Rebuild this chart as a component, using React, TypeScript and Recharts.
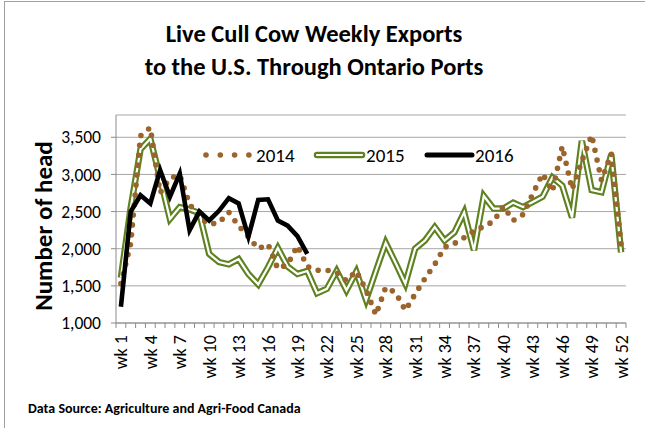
import React from "react"
import { CartesianGrid, Legend, Line, LineChart, XAxis, YAxis } from "recharts"

// weekly live cull cow exports, number of head
const weeks = Array.from({ length: 52 }, (_, i) => i + 1)
const labelWeeks = [1, 4, 7, 10, 13, 16, 19, 22, 25, 28, 31, 34, 37, 40, 43, 46, 49, 52]
const yTicks = [1000, 1500, 2000, 2500, 3000, 3500]

const exports2014 = [
    1530, 2070, 3520, 3630, 2750, 2950, 2990, 2600, 2420, 2330, 2350, 2490, 2310,
    2160, 2000, 2060, 1730, 1790, 2040, 1760, 1710, 1710, 1680, 1570, 1700, 1440,
    1110, 1480, 1410, 1170, 1390, 1600, 1790, 2020, 2070, 2150, 2240, 2300, 2370,
    2570, 2380, 2460, 2740, 3010, 2770, 3380, 2800, 3180, 3530, 2920, 3280, 2050,
]
const exports2015 = [
    1610, 2550, 3340, 3480, 2950, 2400, 2560, 2530, 2480, 1930, 1820, 1790, 1860,
    1660, 1520, 1750, 2010, 1760, 1660, 1700, 1400, 1460, 1700, 1440, 1690, 1310,
    1700, 2080, 1810, 1530, 2000, 2110, 2290, 2110, 2220, 2490, 1980, 2710, 2540,
    2540, 2620, 2560, 2630, 2700, 2960, 2850, 2420, 3450, 2790, 2760, 3270, 1950,
]
const exports2016 = [
    1220, 2500, 2720, 2610, 3060, 2700, 3010, 2250, 2500, 2380, 2510, 2680, 2610,
    2160, 2656, 2665, 2380, 2310, 2170, 1930,
]

const brown = "#9B642D"
const green = "#5F8220"
const axisGray = "#8c8c8c"
const font = "Carlito, Lato, sans-serif"

const data = weeks.map((wk, i) => ({
    wk,
    y2014: exports2014[i],
    y2015: exports2015[i],
    y2016: exports2016[i],
}))

// tick marks sit between weeks, labels on every third week
const xTicks = [...weeks.map((w) => w - 0.5), 52.5, ...labelWeeks].sort((a, b) => a - b)

function WeekTick({ x, y, payload }: any) {
    const v = payload.value as number
    if (!Number.isInteger(v)) {
        return <line x1={x} x2={x} y1={y} y2={y + 5} stroke={axisGray} />
    }
    return (
        <text
            transform={`translate(${x},${y + 12}) rotate(-90)`}
            textAnchor="end"
            dy="0.36em"
            fontSize={18}
            fontFamily={font}
            fill="#000"
        >
            {`wk ${v}`}
        </text>
    )
}

function ChartLegend() {
    return (
        <svg width={340} height={30}>
            {[0, 1, 2, 3].map((i) => (
                <circle key={i} cx={11 + i * 14.3} cy={15} r={2.8} fill={brown} />
            ))}
            <text x={61} y={21.5} fontSize={19} fontFamily={font}>2014</text>
            <line x1={122} x2={167} y1={15} y2={15} stroke={green} strokeWidth={6.5} strokeLinecap="round" />
            <line x1={122} x2={167} y1={15} y2={15} stroke="#fff" strokeWidth={2.2} strokeLinecap="round" />
            <text x={171} y={21.5} fontSize={19} fontFamily={font}>2015</text>
            <line x1={232} x2={277} y1={15} y2={15} stroke="#000" strokeWidth={5} strokeLinecap="round" />
            <text x={280} y={21.5} fontSize={19} fontFamily={font}>2016</text>
        </svg>
    )
}

export default function App() {
    return (
        <div
            style={{
                position: "absolute",
                left: 0,
                top: 0,
                width: 645,
                height: 428,
                overflow: "hidden",
                background: "#fff",
                fontFamily: font,
            }}
        >
            <div
                style={{
                    position: "absolute",
                    left: 4,
                    top: 1,
                    right: -10,
                    bottom: -10,
                    border: "1px solid #a0a0a0",
                }}
            />
            <div
                style={{
                    position: "absolute",
                    left: 0,
                    width: 628,
                    top: 18,
                    textAlign: "center",
                    fontWeight: "bold",
                    fontSize: 24.5,
                    lineHeight: "33px",
                }}
            >
                Live Cull Cow Weekly Exports
                <br />
                to the U.S. Through Ontario Ports
            </div>
            <div
                style={{
                    position: "absolute",
                    left: 43,
                    top: 226,
                    transform: "translate(-50%, -50%) rotate(-90deg)",
                    whiteSpace: "nowrap",
                    fontWeight: "bold",
                    fontSize: 25,
                }}
            >
                Number of head
            </div>
            <div
                style={{
                    position: "absolute",
                    left: 28,
                    top: 400,
                    fontWeight: "bold",
                    fontSize: 14,
                    whiteSpace: "nowrap",
                }}
            >
                Data Source: Agriculture and Agri-Food Canada
            </div>
            <LineChart
                width={645}
                height={428}
                data={data}
                margin={{ top: 115, right: 19, bottom: 45, left: 0 }}
            >
                <CartesianGrid vertical={false} stroke="#a6a6a6" />
                <XAxis
                    dataKey="wk"
                    type="number"
                    domain={[0.5, 52.5]}
                    ticks={xTicks}
                    interval={0}
                    height={60}
                    tickSize={0}
                    tickMargin={0}
                    tickLine={false}
                    tick={<WeekTick />}
                    stroke={axisGray}
                />
                <YAxis
                    domain={[1000, 3800]}
                    ticks={yTicks}
                    width={116}
                    tickSize={5}
                    tickMargin={10}
                    stroke={axisGray}
                    tick={{ fill: "#000", fontSize: 17.5, fontFamily: font }}
                    tickFormatter={(v: number) => v.toLocaleString("en-US")}
                    allowDataOverflow
                />
                <Legend
                    layout="horizontal"
                    verticalAlign="middle"
                    align="center"
                    content={() => <ChartLegend />}
                    wrapperStyle={{ position: "absolute", left: 195, top: 140, width: 340, height: 30 }}
                />
                <Line
                    dataKey="y2015"
                    stroke={green}
                    strokeWidth={6.5}
                    dot={false}
                    activeDot={false}
                    isAnimationActive={false}
                />
                <Line
                    dataKey="y2015"
                    stroke="#fff"
                    strokeWidth={2.2}
                    dot={false}
                    activeDot={false}
                    isAnimationActive={false}
                />
                <Line
                    dataKey="y2014"
                    stroke={brown}
                    strokeWidth={5.6}
                    strokeDasharray="0 10"
                    strokeLinecap="round"
                    dot={false}
                    activeDot={false}
                    isAnimationActive={false}
                />
                <Line
                    dataKey="y2016"
                    stroke="#000"
                    strokeWidth={4.6}
                    dot={false}
                    activeDot={false}
                    isAnimationActive={false}
                />
            </LineChart>
        </div>
    )
}
